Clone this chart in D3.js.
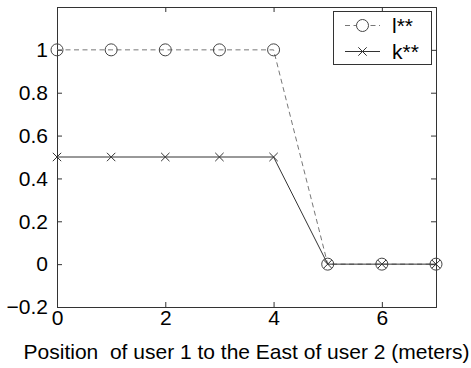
<!DOCTYPE html>
<html>
<head>
<meta charset="utf-8">
<script src="https://cdn.jsdelivr.net/npm/d3@7"></script>
<style>
  body { margin: 0; background: #fff; }
  text { font-family: "Liberation Sans", Arial, Helvetica, sans-serif; }
</style>
</head>
<body>
<div id="chart"></div>
<script>
// Data
const positions = [0, 1, 2, 3, 4, 5, 6, 7];
const lValues = [1, 1, 1, 1, 1, 0, 0, 0];
const kValues = [0.5, 0.5, 0.5, 0.5, 0.5, 0, 0, 0];
const xTicks = [0, 2, 4, 6];
const yTicks = [-0.2, 0, 0.2, 0.4, 0.6, 0.8, 1];
const seriesNames = ["l**", "k**"];
const xLabel = "Position\u00a0 of user 1 to the East of user 2 (meters)";

const margin = {top: 7, right: 35, bottom: 61, left: 57};
const width = 471 - margin.left - margin.right;
const height = 368 - margin.top - margin.bottom;

const svg = d3.select("#chart")
    .append("svg")
    .attr("width", 471)
    .attr("height", 368)
    .append("g")
    .attr("transform", `translate(${margin.left},${margin.top})`);

const x = d3.scaleLinear().domain([0, 7]).range([0, width]);
const y = d3.scaleLinear().domain([-0.2, 1.2]).range([height, 0]);

const axisColor = "#333";
const fmt = d => d === 0 ? "0" : (d < 0 ? "\u2212" + Math.abs(d) : String(d));

// Ticks pointing inward on all four sides
const bottomAxis = svg.append("g")
    .attr("transform", `translate(0,${height})`)
    .call(d3.axisBottom(x).tickValues(xTicks).tickSize(-5).tickPadding(3).tickFormat(fmt));
const topAxis = svg.append("g")
    .call(d3.axisTop(x).tickValues(xTicks).tickSize(-5).tickFormat(""));
const leftAxis = svg.append("g")
    .call(d3.axisLeft(y).tickValues(yTicks).tickSize(-5).tickPadding(9).tickFormat(fmt));
const rightAxis = svg.append("g")
    .attr("transform", `translate(${width},0)`)
    .call(d3.axisRight(y).tickValues(yTicks).tickSize(-5).tickFormat(""));

[bottomAxis, topAxis, leftAxis, rightAxis].forEach(a => {
    a.select(".domain").attr("stroke", axisColor);
    a.selectAll(".tick line").attr("stroke", axisColor);
    a.selectAll("text")
        .attr("fill", "#000")
        .style("font-size", "21px")
        .style("font-family", "'Liberation Sans', Arial, sans-serif");
});

// X-axis label
svg.append("text")
    .attr("x", width / 2)
    .attr("y", height + 52)
    .style("text-anchor", "middle")
    .style("font-size", "21px")
    .attr("fill", "#000")
    .text(xLabel);

const lData = positions.map((p, i) => ({x: p, y: lValues[i]}));
const kData = positions.map((p, i) => ({x: p, y: kValues[i]}));

const line = d3.line()
    .x(d => x(d.x))
    .y(d => y(d.y));

// l** dashed with circles
svg.append("path")
    .datum(lData)
    .attr("fill", "none")
    .attr("stroke", "#777")
    .attr("stroke-width", 1)
    .attr("stroke-dasharray", "5,3.5")
    .attr("d", line);

svg.selectAll(".lmark")
    .data(lData)
    .enter()
    .append("circle")
    .attr("class", "lmark")
    .attr("cx", d => x(d.x))
    .attr("cy", d => y(d.y))
    .attr("r", 6)
    .attr("fill", "none")
    .attr("stroke", "#444")
    .attr("stroke-width", 1);

// k** solid with crosses
svg.append("path")
    .datum(kData)
    .attr("fill", "none")
    .attr("stroke", "#333")
    .attr("stroke-width", 1)
    .attr("d", line);

const cross = (cx, cy, s) => `M${cx - s},${cy - s}L${cx + s},${cy + s}M${cx - s},${cy + s}L${cx + s},${cy - s}`;

svg.selectAll(".kmark")
    .data(kData)
    .enter()
    .append("path")
    .attr("class", "kmark")
    .attr("d", d => cross(x(d.x), y(d.y), 4.2))
    .attr("fill", "none")
    .attr("stroke", "#333")
    .attr("stroke-width", 1);

// Legend
const legend = svg.append("g")
    .attr("transform", `translate(${333 - margin.left},${11 - margin.top})`);

legend.append("rect")
    .attr("x", 0.5)
    .attr("y", 0.5)
    .attr("width", 98)
    .attr("height", 53)
    .attr("fill", "#fff")
    .attr("stroke", axisColor);

seriesNames.forEach((name, i) => {
    const cy = 14.5 + i * 26;
    legend.append("line")
        .attr("x1", 12).attr("x2", 47)
        .attr("y1", cy).attr("y2", cy)
        .attr("stroke", i === 0 ? "#777" : "#333")
        .attr("stroke-dasharray", i === 0 ? "5,3.5" : null);
    if (i === 0) {
        legend.append("circle")
            .attr("cx", 29.5).attr("cy", cy).attr("r", 6)
            .attr("fill", "#fff").attr("stroke", "#444");
    } else {
        legend.append("path")
            .attr("d", cross(29.5, cy, 4.2))
            .attr("fill", "none").attr("stroke", "#333");
    }
    legend.append("text")
        .attr("x", 59)
        .attr("y", cy + 7.5)
        .style("font-size", "21px")
        .attr("fill", "#000")
        .text(name);
});
</script>
</body>
</html>
